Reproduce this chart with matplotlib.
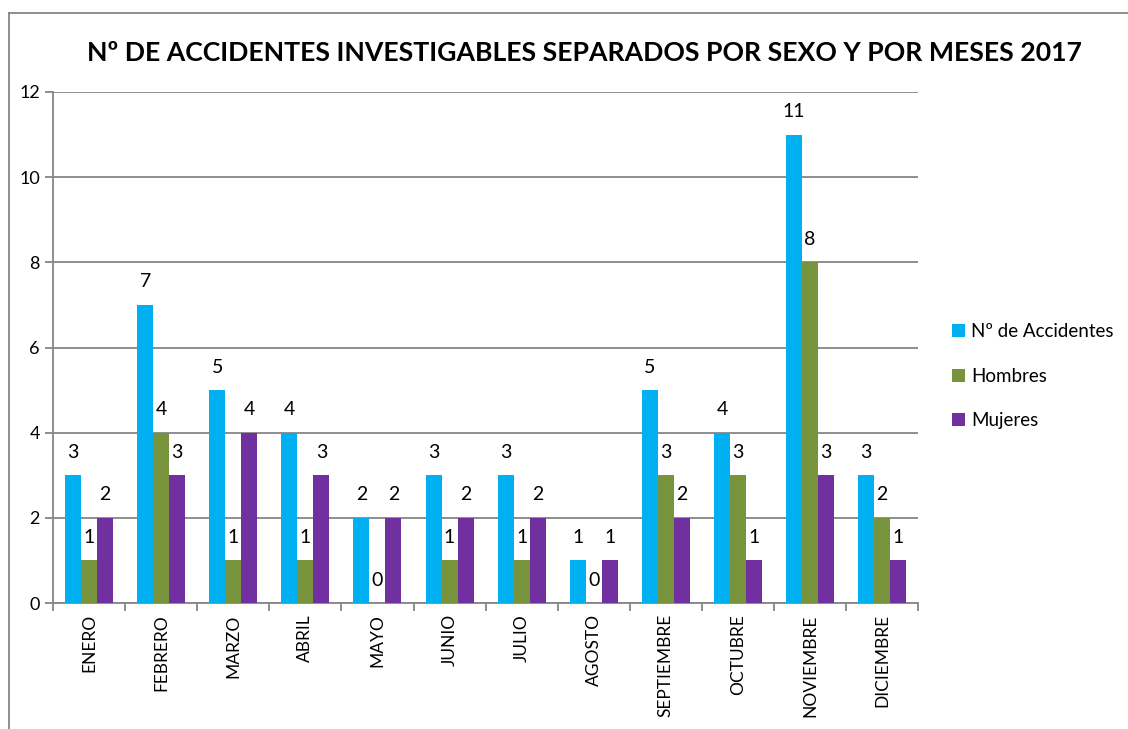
import matplotlib.pyplot as plt
import numpy as np
from matplotlib.lines import Line2D

meses = ["ENERO", "FEBRERO", "MARZO", "ABRIL", "MAYO", "JUNIO", "JULIO",
         "AGOSTO", "SEPTIEMBRE", "OCTUBRE", "NOVIEMBRE", "DICIEMBRE"]
accidentes = [3, 7, 5, 4, 2, 3, 3, 1, 5, 4, 11, 3]
hombres = [1, 4, 1, 1, 0, 1, 1, 0, 3, 3, 8, 2]
mujeres = [2, 3, 4, 3, 2, 2, 2, 1, 2, 1, 3, 1]

series = [("Nº de Accidentes", accidentes, "#00B0F0"),
          ("Hombres", hombres, "#77933C"),
          ("Mujeres", mujeres, "#7030A0")]

plt.rcParams['font.family'] = ['Lato', 'DejaVu Sans']
gris = "#868686"

fig = plt.figure(figsize=(11.28, 7.29), dpi=100)
ax = fig.add_axes([0.047, 0.1728, 0.767, 0.701])

x = np.arange(len(meses))
ancho = 0.222
for i, (nombre, valores, color) in enumerate(series):
    pos = x + (i - 1) * ancho
    barras = ax.bar(pos, valores, ancho, color=color, label=nombre, zorder=3)
    for b, v in zip(barras, valores):
        ax.annotate(str(v), (b.get_x() + b.get_width() / 2, v),
                    xytext=(0, 23), textcoords="offset pixels",
                    ha="center", va="center", fontsize=14, color="black")

ax.set_xlim(-0.5, len(meses) - 0.5)
ax.set_ylim(0, 12)
ax.set_yticks(range(0, 13, 2))
ax.grid(axis="y", color=gris, linewidth=1.3, zorder=0)

ax.set_xticks(x)
ax.set_xticklabels(meses, rotation=90, fontsize=12.5)
ax.tick_params(axis="x", length=0, pad=8)
ax.set_xticks(np.arange(-0.5, len(meses)), minor=True)
ax.tick_params(axis="x", which="minor", length=6, color=gris, width=1.3)
ax.tick_params(axis="y", length=6, color=gris, width=1.3, labelsize=13)

for lado in ["top", "right"]:
    ax.spines[lado].set_visible(False)
for lado in ["left", "bottom"]:
    ax.spines[lado].set_color(gris)
    ax.spines[lado].set_linewidth(1.3)

fig.text(0.518, 0.927, "Nº DE ACCIDENTES INVESTIGABLES SEPARADOS POR SEXO Y POR MESES 2017",
         ha="center", va="center", fontsize=19.2, fontweight="bold")

ax.legend(loc="center left", bbox_to_anchor=(1.02, 0.444), frameon=False,
          fontsize=13.5, handlelength=0.7, handleheight=0.7, handletextpad=0.3,
          labelspacing=1.45)

fig.add_artist(Line2D([0.008, 0.008], [0.0, 0.982], color=gris, linewidth=1.3))
fig.add_artist(Line2D([0.008, 1.0], [0.982, 0.982], color=gris, linewidth=1.3))

fig.savefig("out.png", dpi=100)
